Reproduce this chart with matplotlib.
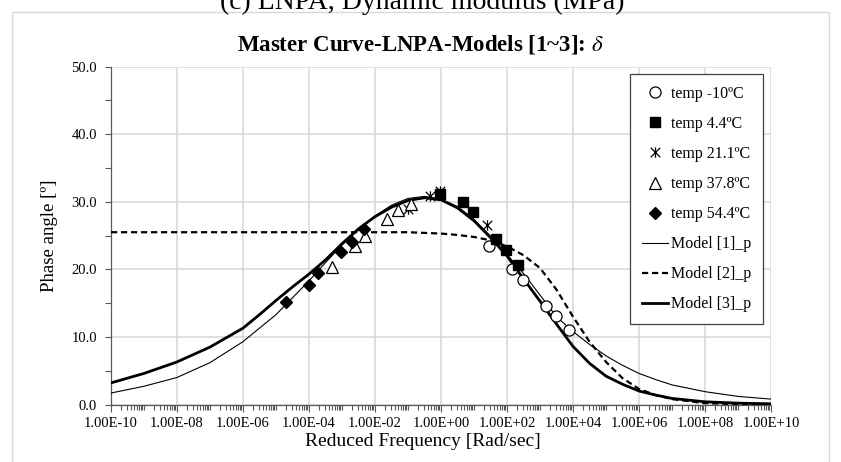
import numpy as np
import matplotlib
matplotlib.use("Agg")
import matplotlib.pyplot as plt
from matplotlib.path import Path
from matplotlib.markers import MarkerStyle
from matplotlib.patches import Rectangle
from matplotlib.ticker import FixedLocator, FuncFormatter, MultipleLocator

plt.rcParams['font.family'] = ['Liberation Serif', 'DejaVu Serif']
plt.rcParams['mathtext.fontset'] = 'stix'

# ---------------- data ----------------
freq_m10 = [2.9e1, 1.4e2, 3.0e2, 1.5e3, 3.0e3, 7.8e3]
delta_m10 = [23.4, 20.1, 18.5, 14.6, 13.1, 11.1]

freq_4p4 = [9.5e-1, 4.8e0, 9.3e0, 4.7e1, 9.1e1, 2.2e2]
delta_4p4 = [31.2, 29.9, 28.5, 24.5, 22.9, 20.7]

freq_21p1 = [1.0e-1, 4.7e-1, 9.5e-1, 2.4e1]
delta_21p1 = [29.0, 30.9, 31.6, 26.5]

freq_37p8 = [4.9e-4, 2.4e-3, 4.9e-3, 2.3e-2, 5.0e-2, 1.26e-1]
delta_37p8 = [20.4, 23.4, 25.0, 27.4, 28.8, 29.7]

freq_54p4 = [2.0e-5, 1.0e-4, 1.9e-4, 9.1e-4, 1.95e-3, 4.8e-3]
delta_54p4 = [15.1, 17.7, 19.5, 22.5, 24.0, 26.0]

model_freq = [1e-10, 1e-9, 1e-8, 1e-7, 1e-6, 3.16e-6, 1e-5, 3.16e-5, 1e-4, 3.16e-4,
              1e-3, 3.16e-3, 1e-2, 3.16e-2, 1e-1, 3.16e-1, 1e0, 3.16e0, 1e1, 3.16e1,
              1e2, 3.16e2, 1e3, 3.16e3, 1e4, 3.16e4, 1e5, 3.16e5, 1e6, 3.16e6,
              1e7, 1e8, 1e9, 1e10]
model1 = [1.7, 2.7, 4.0, 6.2, 9.3, 11.3, 13.3, 15.8, 18.3, 21.0,
          23.6, 25.9, 27.9, 29.5, 30.5, 30.8, 30.4, 29.3, 27.4, 24.9,
          22.2, 19.4, 16.2, 13.0, 10.8, 8.9, 7.2, 5.8, 4.6, 3.7,
          2.9, 1.9, 1.2, 0.8]
model2 = [25.5, 25.5, 25.5, 25.5, 25.5, 25.5, 25.5, 25.5, 25.5, 25.5,
          25.5, 25.5, 25.5, 25.5, 25.5, 25.4, 25.3, 25.1, 24.8, 24.3,
          23.4, 22.1, 20.2, 17.0, 13.0, 9.3, 6.3, 3.9, 2.3, 1.4,
          0.8, 0.2, 0.05, 0.0]
model3 = [3.2, 4.6, 6.3, 8.5, 11.3, 13.3, 15.4, 17.4, 19.3, 21.4,
          23.8, 26.0, 27.8, 29.2, 30.2, 30.6, 30.3, 29.1, 27.2, 24.7,
          22.0, 18.6, 15.3, 11.9, 8.6, 6.1, 4.2, 3.0, 2.0, 1.4,
          0.9, 0.4, 0.2, 0.1]

x_ticks = [1e-10, 1e-8, 1e-6, 1e-4, 1e-2, 1e0, 1e2, 1e4, 1e6, 1e8, 1e10]

# ---------------- figure ----------------
W, H = 841, 462
fig = plt.figure(figsize=(W / 100, H / 100), dpi=100)
fig.patches.append(Rectangle((12 / W, -0.05), (829 - 12) / W, 1.05 - 12 / H,
                             transform=fig.transFigure, fill=False,
                             edgecolor='#d9d9d9', linewidth=1.0))

fig.text(422 / W, 1 - 9 / H, "(c) LNPA, Dynamic modulus (MPa)", ha='center',
         va='baseline', fontsize=20)

ax = fig.add_axes([111 / W, 1 - 404.5 / H, 660 / W, (404.5 - 66.7) / H])
ax.set_xscale('log')
ax.set_xlim(1e-10, 1e10)
ax.set_ylim(0, 50)

gray = '#d9d9d9'
ax.xaxis.set_major_locator(FixedLocator(x_ticks))
minor = []
for e in range(-10, 10):
    for s in range(1, 10):
        v = s * 10.0 ** e
        if s == 1 and e % 2 == 0:
            continue
        minor.append(v)
ax.xaxis.set_minor_locator(FixedLocator(minor))
ax.xaxis.set_major_formatter(FuncFormatter(lambda v, p: f"{v:.2E}"))
ax.xaxis.set_minor_formatter(FuncFormatter(lambda v, p: ""))
ax.yaxis.set_major_locator(MultipleLocator(10))
ax.yaxis.set_minor_locator(MultipleLocator(5))
ax.yaxis.set_major_formatter(FuncFormatter(lambda v, p: f"{v:.1f}"))

ax.grid(True, which='major', color=gray, linewidth=1.2)
ax.set_axisbelow(True)
for s in ['top', 'right']:
    ax.spines[s].set_visible(False)
for s in ['left', 'bottom']:
    ax.spines[s].set_color('#595959')
    ax.spines[s].set_linewidth(0.9)
ax.tick_params(axis='both', which='both', direction='out', color='#595959',
               width=0.8, labelsize=10.5, labelcolor='black')
ax.tick_params(axis='y', which='both', length=4, pad=6)
ax.tick_params(axis='x', which='major', length=5, pad=4)
ax.tick_params(axis='x', which='minor', length=3.5)

# star marker (X with vertical bar)
star_path = Path([(-1, -1), (1, 1), (-1, 1), (1, -1), (0, -1.1), (0, 1.1)],
                 [Path.MOVETO, Path.LINETO, Path.MOVETO, Path.LINETO, Path.MOVETO, Path.LINETO])
star = MarkerStyle(star_path)

ax.plot(model_freq, model1, color='black', lw=0.8, label='Model [1]_p', zorder=3)
ax.plot(model_freq, model2, color='black', lw=1.6, ls=(0, (2.8, 1.7)), label='Model [2]_p', zorder=3)
ax.plot(model_freq, model3, color='black', lw=2.0, label='Model [3]_p', zorder=3)

ax.plot(freq_m10, delta_m10, ls='none', marker='o', ms=8, mfc='white', mec='black',
        mew=0.9, label='temp -10ºC', zorder=4)
ax.plot(freq_4p4, delta_4p4, ls='none', marker='s', ms=7.5, mfc='black', mec='black',
        label='temp 4.4ºC', zorder=4)
ax.plot(freq_21p1, delta_21p1, ls='none', marker=star, ms=7.5, mfc='none', mec='black',
        mew=0.9, label='temp 21.1ºC', zorder=4)
ax.plot(freq_37p8, delta_37p8, ls='none', marker='^', ms=8, mfc='white', mec='black',
        mew=0.9, label='temp 37.8ºC', zorder=4)
ax.plot(freq_54p4, delta_54p4, ls='none', marker='D', ms=6, mfc='black', mec='black',
        label='temp 54.4ºC', zorder=4)

handles, labels = ax.get_legend_handles_labels()
order = [3, 4, 5, 6, 7, 0, 1, 2]
leg = ax.legend([handles[i] for i in order], [labels[i] for i in order],
                loc='upper right', bbox_to_anchor=(763 / W, 1 - 74 / H),
                bbox_transform=fig.transFigure, borderaxespad=0,
                fontsize=11.5, handlelength=1.65, handletextpad=0.15,
                labelspacing=0.88, borderpad=0.75, fancybox=False,
                edgecolor='#404040', framealpha=1)
leg.get_frame().set_linewidth(0.9)

ax.set_ylabel("Phase angle [º]", fontsize=13.5, labelpad=10)
fig.text(423 / W, 1 - 441 / H, "Reduced Frequency [Rad/sec]", ha='center',
         va='center', fontsize=14)
fig.text(420 / W, 1 - 44 / H, r"Master Curve-LNPA-Models [1~3]: $\delta$",
         ha='center', va='center', fontsize=16.5, fontweight='bold')

fig.savefig("out.png", dpi=100)
